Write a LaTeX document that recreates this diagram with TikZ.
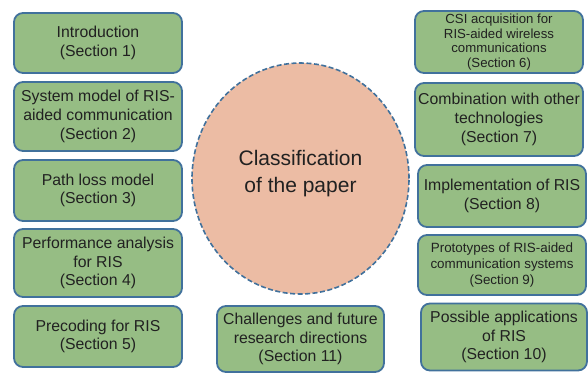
\documentclass[tikz,border=0pt]{standalone}
\usepackage{fontspec}
\setmainfont{Liberation Sans}
\usetikzlibrary{shapes.geometric, positioning}

\definecolor{boxgreen}{RGB}{150,189,132}
\definecolor{boxblue}{RGB}{65,113,156}
\definecolor{peach}{RGB}{236,188,164}
\definecolor{txtgray}{RGB}{33,33,33}

\begin{document}
\begin{tikzpicture}[
    x=1pt, y=1pt,
    section/.style={rectangle, draw=boxblue, fill=boxgreen, line width=1.8pt, rounded corners=9pt, text=txtgray, align=center, inner sep=2pt, font=\fontsize{15.8}{18.8}\selectfont},
    small/.style={font=\fontsize{13.2}{14.6}\selectfont},
    hub/.style={ellipse, draw=boxblue, fill=peach, line width=1.6pt, dash pattern=on 5pt off 2.5pt, text=txtgray, align=center, font=\fontsize{21}{26.5}\selectfont}
]
\useasboundingbox (0,0) rectangle (588,-372);

% Centre
\node[hub, minimum width=217pt, minimum height=231pt] (classif) at (300.5,-178.5) {Classification\\of the paper\\[-12pt]\mbox{}};

% Left column
\node[section, minimum width=168pt, minimum height=60pt] (intro) at (98,-43) {Introduction\\(Section 1)};
\node[section, minimum width=168pt, minimum height=69pt] (sysmodel) at (98,-116.5) {System model of RIS-\\aided communication\\(Section 2)};
\node[section, minimum width=168pt, minimum height=61pt] (pathloss) at (98,-190.5) {Path loss model\\(Section 3)};
\node[section, minimum width=168pt, minimum height=68pt] (perf) at (98,-263) {Performance analysis\\for RIS\\(Section 4)};
\node[section, minimum width=168pt, minimum height=61pt] (precoding) at (98,-336.5) {Precoding for RIS\\(Section 5)};

% Right column
\node[section, small, minimum width=168pt, minimum height=62pt] (csi) at (499,-42) {CSI acquisition for\\RIS-aided wireless\\communications\\(Section 6)};
\node[section, minimum width=168pt, minimum height=73pt] (combo) at (499,-119.5) {Combination with other\\technologies\\(Section 7)};
\node[section, minimum width=168pt, minimum height=62pt] (impl) at (502,-196) {Implementation of RIS\\(Section 8)};
\node[section, small, font=\fontsize{13.4}{16}\selectfont, minimum width=168pt, minimum height=60pt] (proto) at (502,-265) {Prototypes of RIS-aided\\communication systems\\(Section 9)};
\node[section, minimum width=166pt, minimum height=67pt] (apps) at (504,-337) {Possible applications\\of RIS\\(Section 10)};

% Bottom
\node[section, minimum width=167pt, minimum height=66pt] (challenges) at (300.5,-339) {Challenges and future\\research directions\\(Section 11)};

\end{tikzpicture}
\end{document}
